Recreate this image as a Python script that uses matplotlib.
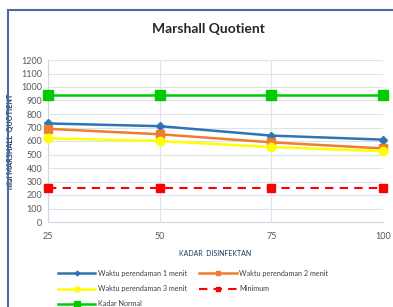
import matplotlib.pyplot as plt
from matplotlib.patches import Rectangle

# data
kadar = [25, 50, 75, 100]
waktu1 = [730, 710, 640, 610]
waktu2 = [690, 650, 590, 545]
waktu3 = [620, 600, 555, 525]
minimum = [250, 250, 250, 250]
kadar_normal = [940, 940, 940, 940]

plt.rcParams['font.family'] = ['Lato', 'DejaVu Sans']

fig = plt.figure(figsize=(3.93, 3.07), dpi=100)
ax = fig.add_axes([48/393, 1 - 222/307, (383-48)/393, (222-60)/307])

l1, = ax.plot(kadar, waktu1, color='#2e75b6', lw=1.8, marker='D', ms=4, clip_on=False, zorder=4,
              label='Waktu perendaman 1 menit')
l2, = ax.plot(kadar, waktu2, color='#ed7d31', lw=1.8, marker='s', ms=6, clip_on=False, zorder=4,
              label='Waktu perendaman 2 menit')
l3, = ax.plot(kadar, waktu3, color='#ffff00', lw=1.8, marker='o', ms=6, clip_on=False, zorder=4,
              label='Waktu perendaman 3 menit')
l4, = ax.plot(kadar, minimum, color='#ff0000', lw=1.5, ls=(0, (4, 3)), marker='s', ms=6,
              clip_on=False, zorder=4, label='Minimum')
l5, = ax.plot(kadar, kadar_normal, color='#00cc00', lw=1.8, marker='s', ms=7, clip_on=False, zorder=4,
              label='Kadar Normal')

ax.set_xlim(25, 100)
ax.set_ylim(0, 1200)
ax.set_xticks(kadar)
ax.set_yticks(range(0, 1201, 100))
ax.grid(True, color='#dde3ec', lw=0.8)
ax.set_axisbelow(True)
for s in ['top', 'right']:
    ax.spines[s].set_visible(False)
for s in ['left', 'bottom']:
    ax.spines[s].set_color('#d0d7e2')
    ax.spines[s].set_linewidth(0.8)
ax.tick_params(length=0, labelsize=6.5, labelcolor='#595959', pad=4)
ax.tick_params(axis='x', pad=7)

ax.set_xlabel('KADAR  DISINFEKTAN', fontsize=5, color='#1f3864', labelpad=7)
ax.set_ylabel('nilai MARSHALL  QUOTIENT', fontsize=5.2, fontweight='bold', color='#1f3864',
              labelpad=5)

fig.text(208/393, 1 - 29/307, 'Marshall Quotient', ha='center', va='center',
         fontsize=10, fontweight='bold', color='#262626')

fig.legend(handles=[l1, l3, l5, l2, l4], loc='upper left', bbox_to_anchor=(55/393, 1 - 267/307),
           ncol=2, fontsize=5.2, frameon=False, handlelength=5.2, handletextpad=0.4,
           columnspacing=1.6, labelspacing=1.15, markerscale=0.6, borderaxespad=0,
           labelcolor='#404040')

fig.add_artist(Rectangle((8/393, -0.1), 1.2, 1 - 10/307 + 0.1, transform=fig.transFigure,
                         fill=False, ec='#4a6aa0', lw=1.5))

fig.savefig('out.png', dpi=100)
